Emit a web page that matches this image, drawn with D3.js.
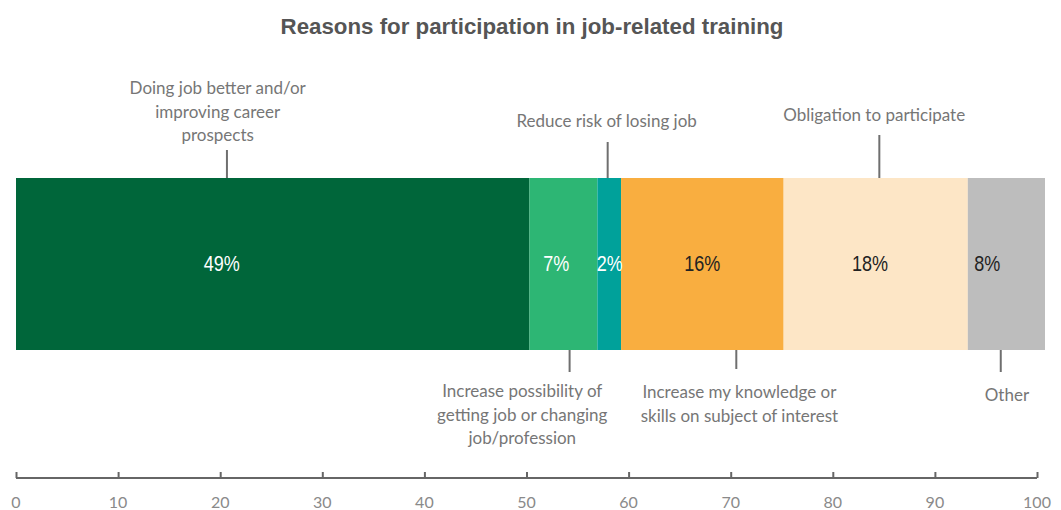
<!DOCTYPE html>
<html>
<head>
<meta charset="utf-8">
<script src="https://cdn.jsdelivr.net/npm/d3@7/dist/d3.min.js"></script>
<style>
  html, body { margin: 0; padding: 0; background: #fff; }
  svg { display: block; }
</style>
</head>
<body>
<svg id="chart" width="1061" height="510"></svg>
<script>
// ---- Data ----
const categories = [
  "Doing job better and/or improving career prospects",
  "Increase possibility of getting job or changing job/profession",
  "Reduce risk of losing job",
  "Increase my knowledge or skills on subject of interest",
  "Obligation to participate",
  "Other"
];
const shares = [49.9, 6.6, 2.3, 15.8, 17.9, 7.5];
const shareLabels = ["49%", "7%", "2%", "16%", "18%", "8%"];
const annotationLines = [
  ["Doing job better and/or", "improving career", "prospects"],
  ["Increase possibility of", "getting job or changing", "job/profession"],
  ["Reduce risk of losing job"],
  ["Increase my knowledge or", "skills on subject of interest"],
  ["Obligation to participate"],
  ["Other"]
];
const axisTicks = [0, 10, 20, 30, 40, 50, 60, 70, 80, 90, 100];
const title = "Reasons for participation in job-related training";

// ---- Layout / style ----
const colors = ["#00663a", "#2db674", "#00a19a", "#f9ae40", "#fde6c6", "#bdbdbd"];
const labelColors = ["#ffffff", "#ffffff", "#ffffff", "#222222", "#222222", "#222222"];
// label x position, expressed in axis units
const labelAt = [20, 52.5, 57.7, 66.7, 83, 94.4];
// annotation: leader x (axis units), text centre x (axis units), leader ends, text first baseline
const annot = [
  { lx: 20.5, tx: 19.6, y1: 150, y0: 178, ty: 94 },
  { lx: 53.8, tx: 49.2, y1: 350, y0: 372, ty: 397 },
  { lx: 57.5, tx: 57.4, y1: 142, y0: 178, ty: 127 },
  { lx: 70.0, tx: 70.3, y1: 350, y0: 369, ty: 398 },
  { lx: 83.9, tx: 83.4, y1: 135, y0: 178, ty: 121 },
  { lx: 95.7, tx: 96.3, y1: 350, y0: 372, ty: 401 }
];

const svg = d3.select("#chart");
const xBar = d3.scaleLinear().domain([0, 100]).range([16, 1045]);
const xAxis = d3.scaleLinear().domain([0, 100]).range([16, 1037]);
const barTop = 178, barBottom = 350;
const narrow = "'Liberation Sans Narrow', 'Liberation Sans', Arial, sans-serif";
const soft = "Lato, 'Open Sans', sans-serif";

// Title
svg.append("text")
  .attr("transform", "translate(532,34) scale(0.97,1)")
  .attr("text-anchor", "middle")
  .attr("font-family", narrow)
  .attr("font-weight", "bold")
  .attr("font-size", 23)
  .attr("fill", "#555555")
  .text(title);

// Stacked segments
let cum = 0;
const segs = shares.map((v, i) => { const s = { i, x0: cum, x1: cum + v }; cum += v; return s; });
svg.append("g").selectAll("rect").data(segs).join("rect")
  .attr("x", d => xBar(d.x0))
  .attr("y", barTop)
  .attr("width", d => xBar(d.x1) - xBar(d.x0))
  .attr("height", barBottom - barTop)
  .attr("fill", d => colors[d.i]);

// Percent labels
svg.append("g").selectAll("text").data(segs).join("text")
  .attr("transform", d => `translate(${xBar(labelAt[d.i])},271) scale(0.82,1)`)
  .attr("text-anchor", "middle")
  .attr("font-family", narrow)
  .attr("font-size", 22)
  .attr("fill", d => labelColors[d.i])
  .text(d => shareLabels[d.i]);

// Annotations
const ag = svg.append("g");
annot.forEach((a, i) => {
  ag.append("line")
    .attr("x1", xBar(a.lx)).attr("x2", xBar(a.lx))
    .attr("y1", a.y1).attr("y2", a.y0)
    .attr("stroke", "#6f6f6f").attr("stroke-width", 2);
  const t = ag.append("text")
    .attr("text-anchor", "middle")
    .attr("font-family", soft)
    .attr("font-size", 17)
    .attr("fill", "#767676");
  annotationLines[i].forEach((ln, k) => {
    t.append("tspan").attr("x", xBar(a.tx)).attr("y", a.ty + k * 23.5).text(ln);
  });
});

// Axis
const axisG = svg.append("g").attr("transform", "translate(0,478)")
  .call(d3.axisTop(xAxis).tickValues(axisTicks).tickSize(6).tickSizeOuter(0).tickFormat(""));
axisG.select(".domain").attr("stroke", "#666").attr("stroke-width", 2).attr("d", `M${xAxis(0)},0H${xAxis(100)}`);
axisG.selectAll(".tick line").attr("stroke", "#666").attr("stroke-width", 2);
svg.append("g").selectAll("text").data(axisTicks).join("text")
  .attr("x", d => xAxis(d))
  .attr("y", 508)
  .attr("text-anchor", "middle")
  .attr("font-family", soft)
  .attr("font-size", 16)
  .attr("fill", "#8a8a8a")
  .text(d => d);
</script>
</body>
</html>
